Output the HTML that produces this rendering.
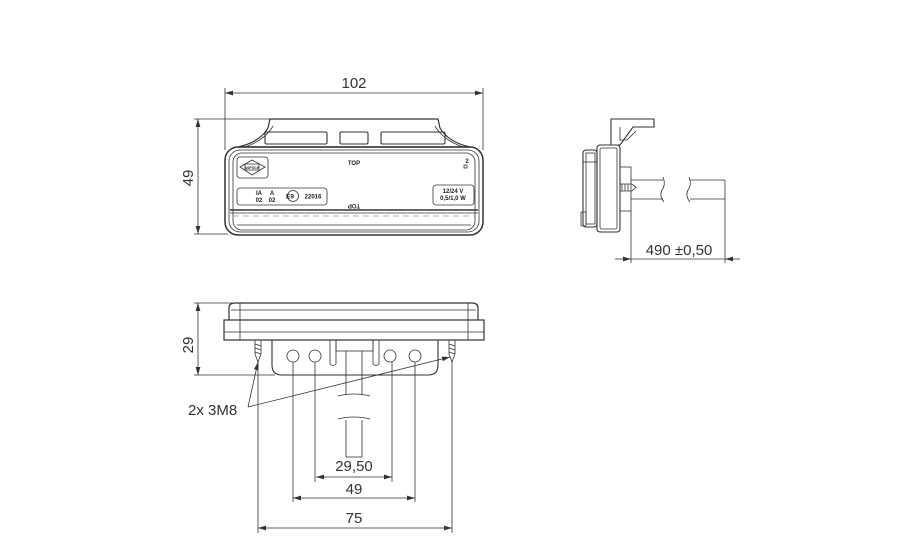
<!DOCTYPE html>
<html><head><style>html,body{margin:0;padding:0;background:#fff}svg{display:block}</style></head>
<body>
<svg width="900" height="550" viewBox="0 0 900 550" xmlns="http://www.w3.org/2000/svg" font-family="Liberation Sans, sans-serif">
<defs>
<marker id="a" viewBox="0 0 10 6" refX="10" refY="3" markerWidth="10" markerHeight="6" orient="auto-start-reverse"><path d="M0,0 L10,3 L0,6 Z" fill="#333"/></marker>
</defs>
<g fill="none" stroke="#333" stroke-width="0.8">
<!-- FRONT VIEW -->
<line x1="225" y1="88" x2="225" y2="150"/><line x1="483" y1="88" x2="483" y2="150"/>
<line x1="225" y1="93" x2="483" y2="93" marker-start="url(#a)" marker-end="url(#a)"/>
<line x1="194" y1="119" x2="272" y2="119"/><line x1="194" y1="234" x2="228" y2="234"/>
<line x1="198" y1="119" x2="198" y2="234" marker-start="url(#a)" marker-end="url(#a)"/>
<path d="M270,119 L438,119 L440,128 Q448,142 470,147 L238,147 Q260,142 268,128 Z" stroke-width="1.2"/>
<path d="M273,126 Q265,140 245,147 M435,126 Q443,140 463,147"/>
<rect x="265" y="132" width="62" height="12" rx="1.5" stroke-width="1.1"/>
<rect x="340" y="132" width="28" height="12" rx="1.5" stroke-width="1.1"/>
<rect x="381" y="132" width="64" height="12" rx="1.5" stroke-width="1.1"/>
<rect x="225" y="147" width="258" height="88" rx="13" stroke-width="1.5"/>
<rect x="229" y="150" width="250" height="82" rx="11"/>
<rect x="233" y="153" width="242" height="77" rx="9"/>
<line x1="230" y1="210" x2="478" y2="210" stroke-width="1.5"/>
<line x1="230" y1="213" x2="478" y2="213"/>
<line x1="233" y1="216" x2="475" y2="216" stroke-dasharray="6 4" stroke="#999"/>
<line x1="237" y1="225" x2="471" y2="225"/>
<rect x="237" y="157" width="31" height="21" rx="3"/>
<path d="M240,167 L252,160 L265,167 L252,175 Z"/>
<rect x="245" y="164" width="14" height="6" rx="1"/>
<rect x="237" y="188" width="90" height="17" rx="3"/>
<circle cx="293" cy="196" r="5.5"/>
<rect x="433" y="185" width="41" height="20" rx="3"/>
<rect x="464" y="165" width="3" height="3"/>
<!-- SIDE VIEW -->
<path d="M611,119 L654,119 L654,127 L633,127 L620,145 L611,145 Z" stroke-width="1.1"/>
<path d="M620,127 L620,140 L627,140 L636,131"/>
<rect x="597" y="145" width="23" height="87" rx="3" stroke-width="1.1"/>
<rect x="600" y="148" width="17" height="81" rx="2"/>
<rect x="583" y="150" width="14" height="77" rx="3" stroke-width="1.1"/>
<rect x="586" y="153" width="9" height="71"/>
<rect x="581" y="212" width="5" height="14" rx="1"/>
<line x1="583" y1="162" x2="597" y2="162"/>
<rect x="620" y="167" width="11" height="44"/>
<path d="M620,184 L632,184 L636,187 L632,191 L620,191 M622,184 L622,191 M625,184 L625,191 M628,184 L628,191"/>
<line x1="631" y1="180" x2="663" y2="180"/><line x1="631" y1="199" x2="663" y2="199"/>
<path d="M663,177 Q666,185 662,190 Q659,196 664,202"/>
<path d="M689,177 Q692,185 688,190 Q685,196 690,202"/>
<line x1="690" y1="180" x2="725" y2="180"/><line x1="690" y1="199" x2="725" y2="199"/>
<line x1="725" y1="180" x2="725" y2="263"/>
<line x1="631" y1="211" x2="631" y2="263"/>
<line x1="615" y1="259" x2="631" y2="259" marker-end="url(#a)"/>
<line x1="631" y1="259" x2="725" y2="259"/>
<line x1="740" y1="259" x2="725" y2="259" marker-end="url(#a)"/>
<!-- BOTTOM VIEW -->
<line x1="194" y1="303" x2="232" y2="303"/><line x1="194" y1="375" x2="275" y2="375"/>
<line x1="198" y1="303" x2="198" y2="375" marker-start="url(#a)" marker-end="url(#a)"/>
<path d="M229,320 L229,308 Q229,303 235,303 L472,303 Q478,303 478,308 L478,320" stroke-width="1.2"/>
<line x1="231" y1="310" x2="476" y2="310"/>
<rect x="224" y="320" width="260" height="20" stroke-width="1.2"/>
<line x1="224" y1="332" x2="484" y2="332"/>
<line x1="240" y1="303" x2="240" y2="340"/><line x1="468" y1="303" x2="468" y2="340"/>
<path d="M272,340 L272,365 Q272,375 282,375 L428,375 Q438,375 438,365 L438,340" stroke-width="1.1"/>
<circle cx="293" cy="356" r="6"/><circle cx="315" cy="356" r="6"/><circle cx="390" cy="356" r="6"/><circle cx="415" cy="356" r="6"/>
<path d="M330,340 L330,364 Q333,367 336,364 L336,340 M373,340 L373,364 Q376,367 379,364 L379,340"/>
<rect x="336" y="340" width="37" height="11"/>
<path d="M255,340 L255,354 L258,362 L261,354 L261,340 M255,344 L261,346 M255,348 L261,350 M255,352 L261,354"/>
<path d="M449,340 L449,354 L452,362 L455,354 L455,340 M449,344 L455,346 M449,348 L455,350 M449,352 L455,354"/>
<line x1="346" y1="351" x2="346" y2="395"/><line x1="362" y1="351" x2="362" y2="395"/>
<path d="M338,396 Q354,392 370,396 M338,419 Q354,415 370,419"/>
<line x1="346" y1="420" x2="346" y2="457"/><line x1="362" y1="420" x2="362" y2="457"/><line x1="346" y1="457" x2="362" y2="457"/>
<line x1="258" y1="362" x2="258" y2="533"/><line x1="452" y1="362" x2="452" y2="533"/>
<line x1="293" y1="362" x2="293" y2="502"/><line x1="415" y1="362" x2="415" y2="502"/>
<line x1="315" y1="362" x2="315" y2="482"/><line x1="392" y1="362" x2="392" y2="482"/>
<line x1="316" y1="477" x2="392" y2="477" marker-start="url(#a)" marker-end="url(#a)"/>
<line x1="293" y1="498" x2="415" y2="498" marker-start="url(#a)" marker-end="url(#a)"/>
<line x1="258" y1="528" x2="452" y2="528" marker-start="url(#a)" marker-end="url(#a)"/>
<line x1="248" y1="407" x2="258" y2="362" marker-end="url(#a)"/>
<line x1="248" y1="407" x2="450" y2="357" marker-end="url(#a)"/>
</g>
<g fill="#333" font-size="15">
<text x="354" y="88" text-anchor="middle">102</text>
<text transform="translate(193,178) rotate(-90)" text-anchor="middle">49</text>
<text transform="translate(193,345) rotate(-90)" text-anchor="middle">29</text>
<text x="679" y="255" text-anchor="middle">490 ±0,50</text>
<text x="354" y="471" text-anchor="middle">29,50</text>
<text x="354" y="494" text-anchor="middle">49</text>
<text x="354" y="523" text-anchor="middle">75</text>
<text x="188" y="415">2x 3M8</text>
</g>
<g fill="#222" font-size="6" font-weight="bold" text-anchor="middle">
<text x="354" y="165">TOP</text>
<text x="467" y="163">2</text>
<text x="259" y="195">IA</text><text x="259" y="202">02</text>
<text x="272" y="195">A</text><text x="272" y="202">02</text>
<text x="290" y="198.5" font-size="6.5">E9</text>
<text x="313" y="198.5">22016</text>
<text x="453" y="193">12/24 V</text><text x="453" y="200">0,5/1,0 W</text>
<text transform="translate(354,204) rotate(180)">TOP</text>
<text x="252" y="169" font-size="3.5">ASPÖCK</text>
</g>
</svg>
</body></html>
